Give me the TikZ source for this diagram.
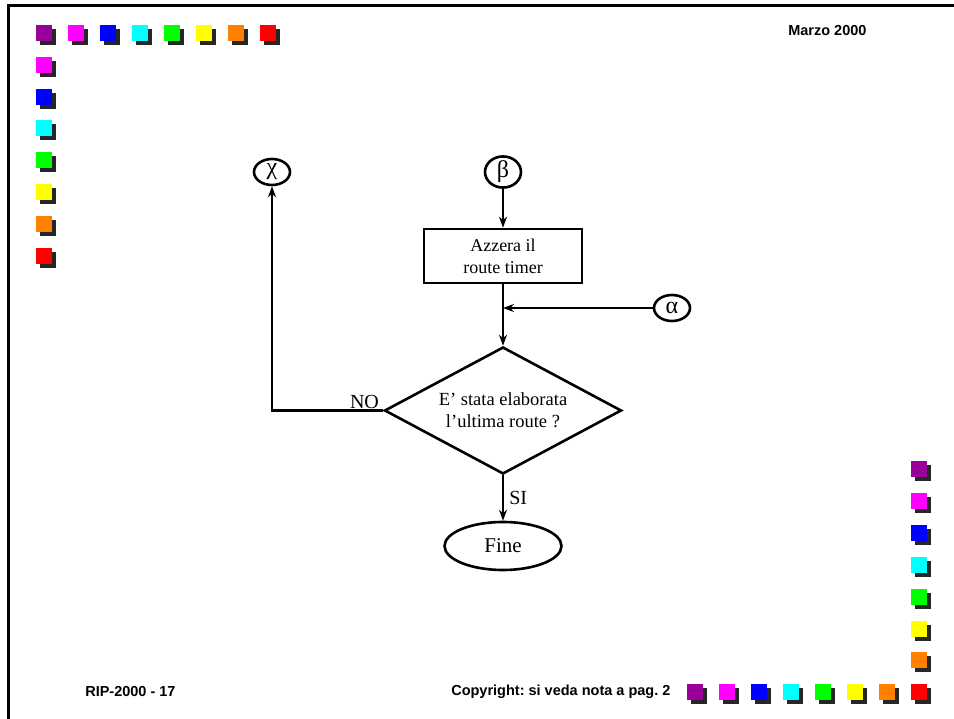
\documentclass[tikz,border=0pt]{standalone}
\usepackage{fontspec}
\setmainfont{Liberation Serif}
\setsansfont{Liberation Sans}
\usepackage{tikz}
\usetikzlibrary{positioning,shapes.geometric,arrows.meta}
\frenchspacing

\definecolor{sqpurple}{HTML}{990099}
\definecolor{sqmagenta}{HTML}{FF00FF}
\definecolor{sqblue}{HTML}{0000FF}
\definecolor{sqcyan}{HTML}{00FFFF}
\definecolor{sqgreen}{HTML}{00FF00}
\definecolor{sqyellow}{HTML}{FFFF00}
\definecolor{sqorange}{HTML}{FF8000}
\definecolor{sqred}{HTML}{FF0000}
\definecolor{sqshadow}{HTML}{262626}

\newcommand{\colsq}[3]{%
  \fill[sqshadow] (#1+4,#2+4) rectangle ++(16,16);
  \fill[#3] (#1,#2) rectangle ++(16,16);}

\begin{document}
\begin{tikzpicture}[x=1pt,y=-1pt,>={Stealth[length=11pt,width=8pt]},
  line width=2.6pt,
  conn/.style={draw,ellipse,minimum width=36pt,minimum height=26pt,inner sep=0pt,font=\fontsize{24}{24}\selectfont},
  procbox/.style={draw,rectangle,minimum width=158pt,minimum height=54pt,align=center,font=\fontsize{18}{22}\selectfont},
  decision/.style={draw,diamond,aspect=1.87,minimum width=237pt,minimum height=127pt,inner sep=0pt,align=center,font=\fontsize{18.5}{22}\selectfont},
  term/.style={draw,ellipse,minimum width=117pt,minimum height=48pt,font=\fontsize{21}{24}\selectfont},
  lab/.style={font=\fontsize{20}{22}\selectfont,inner sep=1pt},
  hdr/.style={font=\sffamily\bfseries\fontsize{14.5}{16}\selectfont,anchor=west,inner sep=0pt}]
\useasboundingbox (0,0) rectangle (954,719);
\draw[line width=3pt] (8.7,719) -- (8.7,5.5) -- (954,5.5);

\foreach \c [count=\i from 0] in {sqpurple,sqmagenta,sqblue,sqcyan,sqgreen,sqyellow,sqorange,sqred}
  {\colsq{36+32*\i}{25}{\c}}
\foreach \c [count=\i] in {sqmagenta,sqblue,sqcyan,sqgreen,sqyellow,sqorange,sqred}
  {\colsq{36}{25+31.8*\i}{\c}}
\foreach \c [count=\i from 0] in {sqpurple,sqmagenta,sqblue,sqcyan,sqgreen,sqyellow,sqorange,sqred}
  {\colsq{911}{461+31.9*\i}{\c}}
\foreach \c [count=\i from 0] in {sqpurple,sqmagenta,sqblue,sqcyan,sqgreen,sqyellow,sqorange}
  {\colsq{687+32*\i}{684}{\c}}

\node[hdr] (date) at (787,31) {Marzo 2000};
\node[hdr] (page) at (84,692) {RIP-2000 - 17};
\node[hdr] (copy) at (450,692) {Copyright: si veda nota a pag. 2};

\node[conn] (beta) at (503,172) {β};
\node[conn] (chi) at (272,172) {χ};
\node[procbox] (reset) at (503,256) {Azzera il\\route timer};
\node[conn] (alpha) at (672,308) {α};
\node[decision] (last) at (503,410.5) {E’ stata elaborata\\l’ultima route ?};
\node[term] (fine) at (503,546) {Fine};
\coordinate (join) at (reset.south |- alpha.west);

\draw[->] (beta) -- (reset);
\draw[->] (alpha) -- (join);
\draw[->] (reset) -- (last);
\draw[->] (last.west) -| (chi);
\node[lab,above left=0pt and 2pt of last.west] (no) {NO};
\draw[->] (last) -- node[lab,right=4pt] (si) {SI} (fine);
\end{tikzpicture}
\end{document}
